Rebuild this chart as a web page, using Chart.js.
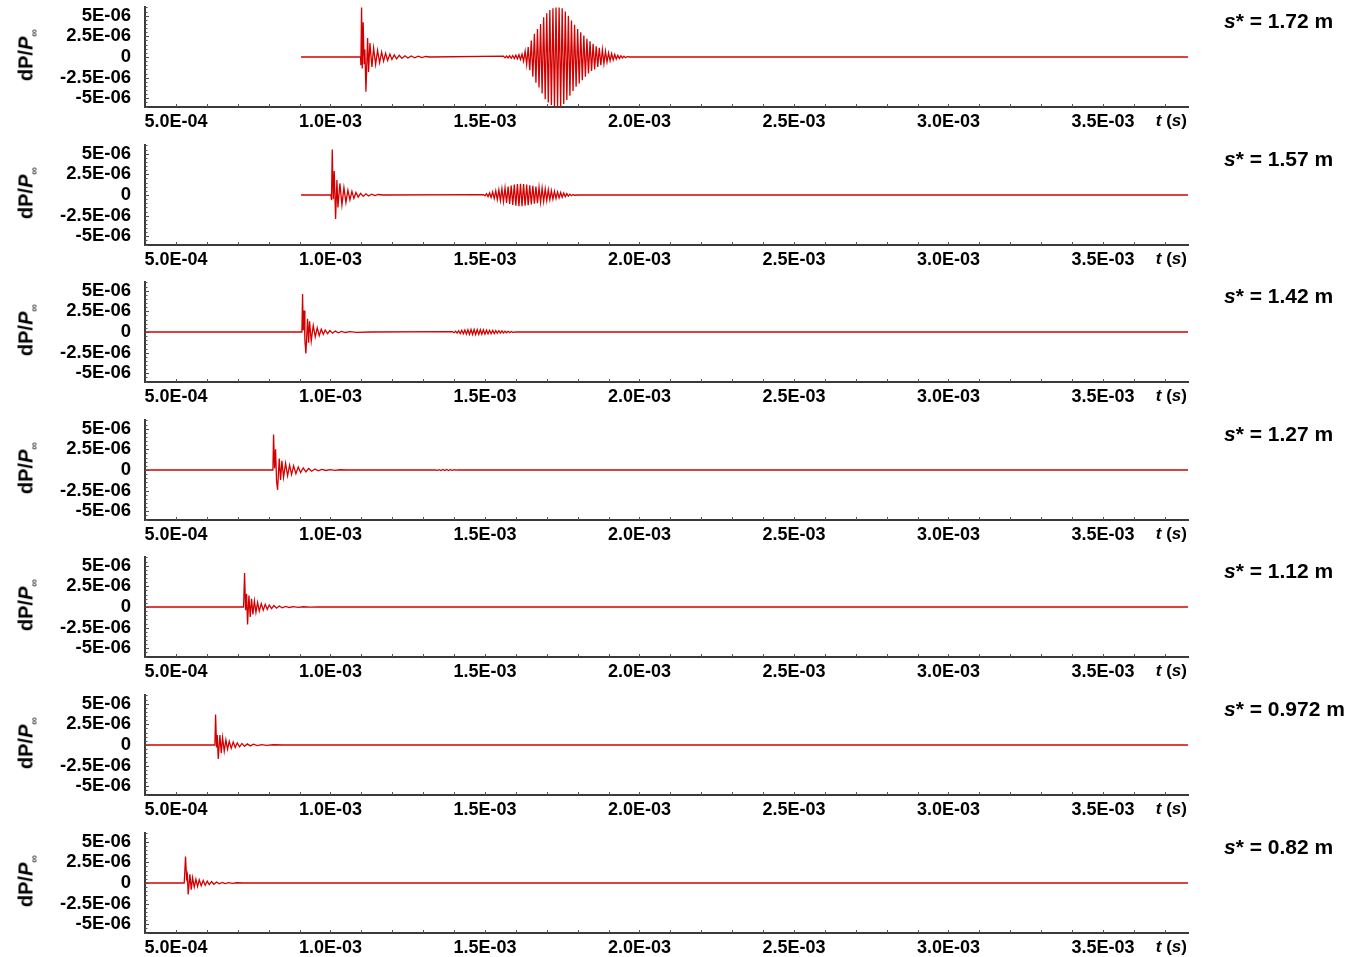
<!DOCTYPE html>
<html>
<head>
<meta charset="utf-8">
<script src="https://cdn.jsdelivr.net/npm/chart.js@4"></script>
<style>
body { margin: 0; background: #fff; font-family: "Liberation Sans", Arial, sans-serif; }
#page { position: relative; width: 1360px; height: 957px; overflow: hidden; }
.panel { position: absolute; left: 0; width: 1360px; height: 137px; }
.ylab { position: absolute; left: 27px; font-weight: bold; font-size: 20px; white-space: nowrap;
        transform: translate(-50%, -50%) rotate(-90deg); }
.ylab sub { font-size: 11px; font-weight: normal; }
.tlab { position: absolute; right: 173px; font-weight: bold; font-size: 17px; white-space: nowrap; transform: translateY(-50%); }
.slab { position: absolute; left: 1224px; font-weight: bold; font-size: 21px; white-space: nowrap; transform: translateY(-50%); }
</style>
</head>
<body>
<div id="page"></div>
<script>
// times in microseconds, pressure in units of 1E-06
const p1Time = [
  905, 1097.6, 1098.5, 1100.8, 1103, 1106, 1109, 1111.5, 1114.9, 1120.3,
  1123.5, 1127.8, 1134.3, 1139.7, 1146.2, 1152.6, 1159.1, 1165.6, 1172, 1178.5,
  1185, 1192.5, 1199, 1206.6, 1214, 1222.8, 1231.4, 1241, 1250.8, 1261.6,
  1272.4, 1284.3, 1296, 1308, 1322,
  1560, 1565, 1570, 1575, 1580, 1585, 1590, 1595, 1600, 1605, 1610, 1615,
  1620, 1625, 1630, 1635, 1640, 1645, 1650, 1655, 1660, 1665,
  1670, 1675, 1680, 1685, 1690, 1695, 1700, 1705, 1710, 1715,
  1720, 1725, 1730, 1735, 1740, 1745, 1750, 1755, 1760, 1765,
  1770, 1775, 1780, 1785, 1790, 1795, 1800, 1805, 1810, 1815,
  1820, 1825, 1830, 1835, 1840, 1845, 1850, 1855, 1860, 1865,
  1870, 1875, 1880, 1885, 1890, 1895, 1900, 1905, 1910, 1915,
  1920, 1925, 1930, 1935, 1940, 1945, 1950, 1955, 1960, 1970,
  3775]
const p1Value = [
  0, 0, -1.0, 6.0, -1.4, 4.2, -0.8, 0.9, -4.2, 2.3,
  -1.8, 1.7, -1.2, 1.1, -0.9, 0.8, -0.7, 0.6, -0.5, 0.45,
  -0.4, 0.35, -0.3, 0.25, -0.22, 0.2, -0.17, 0.15, -0.13, 0.12,
  -0.1, 0.09, -0.08, 0.06, 0,
  0.1, -0.1, 0.12, -0.12, 0.15, -0.15, 0.18, -0.18, 0.22, -0.22, 0.27, -0.3,
  0.35, -0.5, 0.7, -0.9, 1.2, -1.6, 2.0, -2.4, 2.8, -3.1,
  3.4, -3.7, 4.0, -4.4, 4.8, -5.1, 5.3, -5.5, 5.7, -5.8,
  5.9, -6.0, 6.0, -6.0, 6.0, -6.0, 5.9, -5.7, 5.5, -5.2,
  5.0, -4.7, 4.4, -4.1, 3.9, -3.6, 3.4, -3.2, 3.0, -2.8,
  2.6, -2.4, 2.2, -2.0, 1.9, -1.7, 1.6, -1.5, 1.3, -1.2,
  1.1, -1.0, 0.9, -0.8, 0.7, -0.6, 0.5, -0.45, 0.4, -0.35,
  0.3, -0.25, 0.2, -0.18, 0.15, -0.12, 0.1, -0.08, 0.05, 0,
  0]

const p2Time = [
  905, 1001.6, 1003.5, 1005.9, 1009.2, 1012.4, 1016.7, 1021, 1024.3, 1030.7,
  1037.2, 1043.7, 1050.2, 1056.6, 1063.1, 1069.6, 1076, 1082.5, 1090, 1097.6,
  1106.3, 1114.9, 1123.5, 1133.3, 1144, 1154.8, 1171,
  1495, 1500, 1505, 1510, 1515, 1520, 1525, 1530, 1535, 1540,
  1545, 1550, 1555, 1560, 1565, 1570, 1575, 1580, 1585, 1590,
  1595, 1600, 1605, 1610, 1615, 1620, 1625, 1630, 1635, 1640,
  1645, 1650, 1655, 1660, 1665, 1670, 1675, 1680, 1685, 1690,
  1695, 1700, 1705, 1710, 1715, 1720, 1725, 1730, 1735, 1740,
  1745, 1750, 1755, 1760, 1765, 1770, 1775, 1780, 1785, 1790,
  1800, 3775]
const p2Value = [
  0, 0, -0.6, 5.5, -0.5, 2.9, -2.9, 1.8, -1.5, 1.4,
  -1.2, 0.9, -0.9, 0.6, -0.6, 0.45, -0.4, 0.3, -0.25, 0.2,
  -0.17, 0.14, -0.12, 0.1, -0.08, 0.06, 0,
  0.05, -0.1, 0.15, -0.2, 0.25, -0.3, 0.37, -0.43, 0.5, -0.56,
  0.62, -0.68, 0.75, -0.8, 0.87, -0.95, 1.02, -1.08, 1.14, -1.2,
  1.25, -1.3, 1.32, -1.35, 1.35, -1.35, 1.32, -1.3, 1.25, -1.22,
  1.18, -1.14, 1.1, -1.06, 1.02, -0.98, 0.93, -0.88, 0.83, -0.78,
  0.73, -0.68, 0.63, -0.58, 0.53, -0.5, 0.46, -0.42, 0.38, -0.34,
  0.3, -0.27, 0.23, -0.2, 0.17, -0.13, 0.1, -0.08, 0.05, -0.03,
  0, 0]

const p3Time = [
  400, 907.7, 909.9, 912, 915.2, 917.4, 920.6, 926, 929.3, 932.5,
  937.9, 944.4, 950.9, 957.3, 963.8, 970.3, 976.8, 983.2, 990.8, 998.3,
  1007, 1015.6, 1025.3, 1036.1, 1048, 1063, 1084.7, 1128,
  1395, 1400, 1405, 1410, 1415, 1420, 1425, 1430, 1435, 1440,
  1445, 1450, 1455, 1460, 1465, 1470, 1475, 1480, 1485, 1490,
  1495, 1500, 1505, 1510, 1515, 1520, 1525, 1530, 1535, 1540,
  1545, 1550, 1555, 1560, 1565, 1570, 1575, 1580, 1585, 1590,
  1600, 3775]
const p3Value = [
  0, 0, 4.6, 0.2, 2.6, -1.0, -2.6, 1.6, -1.3, 1.3,
  -1.1, 0.8, -0.6, 0.5, -0.45, 0.33, -0.28, 0.24, -0.2, 0.17,
  -0.14, 0.12, -0.1, 0.08, -0.06, 0.05, -0.04, 0,
  0.05, -0.08, 0.1, -0.13, 0.15, -0.18, 0.2, -0.22, 0.24, -0.26,
  0.28, -0.29, 0.3, -0.3, 0.3, -0.3, 0.29, -0.29, 0.28, -0.28,
  0.27, -0.26, 0.24, -0.23, 0.21, -0.2, 0.19, -0.18, 0.17, -0.16,
  0.15, -0.14, 0.13, -0.12, 0.1, -0.09, 0.08, -0.07, 0.06, -0.05,
  0, 0]

const p4Time = [
  400, 813.9, 816, 819.3, 822.5, 825.8, 829, 834.4, 838.7, 843,
  848.4, 854.9, 861.4, 867.9, 874.3, 880.8, 888.3, 895.9, 903.5, 912.1,
  920.7, 929.4, 939.1, 949.9, 960.6, 972.5, 985.5, 998.4, 1014.6, 1030.8,
  1052.4,
  1340, 1346, 1352, 1358, 1364, 1370, 1376, 1382, 1388, 1394, 1400, 1406,
  1415, 3775]
const p4Value = [
  0, 0, 4.3, 0.2, 2.5, -1.4, -2.4, 1.4, -1.2, 1.1,
  -0.9, 0.8, -0.7, 0.6, -0.55, 0.5, -0.45, 0.35, -0.3, 0.25,
  -0.22, 0.18, -0.15, 0.12, -0.1, 0.08, -0.06, 0.05, -0.04, 0.03,
  0,
  0.02, -0.04, 0.05, -0.06, 0.07, -0.07, 0.07, -0.06, 0.05, -0.04, 0.03, -0.02,
  0, 0]

const p5Time = [
  400, 719, 722.2, 725.5, 728.7, 731.9, 736.3, 740.5, 744.8, 749.1,
  754, 759, 764.3, 769.7, 776.2, 782.7, 789.1, 795.6, 802.1, 809.6,
  817.2, 825.8, 834.5, 844.2, 855, 866.8, 879.8, 896, 912.1, 933.7,
  960.7, 3775]
const p5Value = [
  0, 0, 4.1, -0.4, 1.6, -2.1, 1.4, -1.2, 1.0, -0.9,
  0.75, -0.65, 0.55, -0.5, 0.42, -0.38, 0.32, -0.28, 0.24, -0.2,
  0.17, -0.14, 0.12, -0.1, 0.08, -0.06, 0.05, -0.04, 0.03, -0.02,
  0, 0]

const p6Time = [
  400, 626.2, 628.4, 631.6, 633.8, 637, 642.4, 646.7, 651, 656.4,
  661.8, 667.2, 672.6, 679.1, 685.5, 692, 698.5, 706, 713.6, 722.2,
  730.9, 740.6, 751.4, 763.2, 777.3, 793.4, 815, 847.4, 3775]
const p6Value = [
  0, 0, 3.7, -0.3, 1.2, -1.7, 1.2, -1.0, 0.9, -0.75,
  0.6, -0.5, 0.45, -0.4, 0.35, -0.3, 0.26, -0.22, 0.19, -0.16,
  0.13, -0.11, 0.09, -0.07, 0.05, -0.04, 0.03, 0, 0]

const p7Time = [
  400, 526.9, 531.2, 534.5, 537, 539.8, 545.2, 549.6, 553.9, 559.3,
  564.7, 570.1, 575.5, 581.9, 588.4, 594.9, 601.4, 607.8, 615.4, 622.9,
  631.6, 640.2, 649.9, 659.6, 670.4, 683.4, 696.3, 717.9, 3775]
const p7Value = [
  0, 0, 3.2, 0.6, 1.0, -1.4, 1.05, -0.8, 0.65, -0.5,
  0.45, -0.42, 0.38, -0.34, 0.3, -0.27, 0.23, -0.2, 0.17, -0.15,
  0.12, -0.1, 0.08, -0.07, 0.05, -0.04, 0.03, 0, 0]

const distances = ['1.72', '1.57', '1.42', '1.27', '1.12', '0.972', '0.82']
const yLabelValues = [-5, -2.5, 0, 2.5, 5]

const panelTimes = [p1Time, p2Time, p3Time, p4Time, p5Time, p6Time, p7Time]
const panelValues = [p1Value, p2Value, p3Value, p4Value, p5Value, p6Value, p7Value]

const fmtX = v => {
    if (v < 500 || v % 500 !== 0) return ''
    const e = Math.floor(Math.log10(v)) - 6
    const m = v / Math.pow(10, e + 6)
    return m.toFixed(1) + 'E-' + String(-e).padStart(2, '0')
}
const fmtY = v => {
    const hit = yLabelValues.find(l => Math.abs(l - v) < 1e-6)
    if (hit === undefined) return ''
    return hit === 0 ? '0' : hit + 'E-06'
}

// small inward tick marks like the original plot
const innerTicks = {
    id: 'innerTicks',
    afterDraw(chart) {
        const {ctx, chartArea: a, scales: {x, y}} = chart
        ctx.save()
        ctx.strokeStyle = '#555'
        ctx.lineWidth = 1
        ctx.beginPath()
        x.ticks.forEach(t => {
            if (t.value <= x.min) return
            const px = Math.round(x.getPixelForValue(t.value)) + 0.5
            ctx.moveTo(px, a.bottom)
            ctx.lineTo(px, a.bottom - 3)
        })
        y.ticks.forEach(t => {
            const py = Math.round(y.getPixelForValue(t.value)) + 0.5
            const len = fmtY(t.value) ? 4 : 2.5
            ctx.moveTo(a.left, py)
            ctx.lineTo(a.left + len, py)
        })
        ctx.stroke()
        ctx.restore()
    }
}

const noPad = s => {
    s.paddingTop = 0
    s.paddingBottom = 0
    s.paddingLeft = 0
    s.paddingRight = 0
}

const page = document.getElementById('page')

for (let i = 0; i < 7; i++) {
    const zero = Math.round(57 + i * 137.6)

    const box = document.createElement('div')
    box.className = 'panel'
    box.style.top = (zero - 57) + 'px'
    const cv = document.createElement('canvas')
    cv.width = 1360
    cv.height = 137
    box.appendChild(cv)
    page.appendChild(box)

    const yl = document.createElement('div')
    yl.className = 'ylab'
    yl.style.top = (zero - 2) + 'px'
    yl.innerHTML = 'dP/<i>P</i><sub>∞</sub>'
    page.appendChild(yl)

    const tl = document.createElement('div')
    tl.className = 'tlab'
    tl.style.top = (zero + 64) + 'px'
    tl.innerHTML = '<i>t</i> (<i>s</i>)'
    page.appendChild(tl)

    const sl = document.createElement('div')
    sl.className = 'slab'
    sl.style.top = (zero - 36) + 'px'
    sl.innerHTML = '<i>s</i>* = ' + distances[i] + ' m'
    page.appendChild(sl)

    const times = panelTimes[i]
    const vals = panelValues[i]
    const points = times.map((t, k) => ({x: t, y: vals[k]}))

    new Chart(cv, {
        type: 'line',
        data: {
            datasets: [{
                data: points,
                borderColor: '#d40000',
                borderWidth: 1.3,
                pointRadius: 0,
                tension: 0,
                fill: false
            }]
        },
        options: {
            responsive: false,
            animation: false,
            events: [],
            layout: {padding: {left: 0, right: 172, top: 7, bottom: 0}},
            plugins: {legend: {display: false}, tooltip: {enabled: false}},
            scales: {
                x: {
                    type: 'linear',
                    min: 400,
                    max: 3775,
                    grid: {display: false, drawTicks: false},
                    border: {display: true, color: '#3a3a3a', width: 2},
                    ticks: {
                        stepSize: 100,
                        includeBounds: false,
                        autoSkip: false,
                        maxRotation: 0,
                        padding: 4,
                        color: '#000',
                        font: {family: 'Liberation Sans', size: 18, weight: 'bold'},
                        callback: v => fmtX(v)
                    },
                    afterFit: s => { s.height = 30; noPad(s) }
                },
                y: {
                    type: 'linear',
                    min: -6.05,
                    max: 6.05,
                    grid: {display: false, drawTicks: false},
                    border: {display: true, color: '#3a3a3a', width: 2},
                    ticks: {
                        stepSize: 0.5,
                        includeBounds: false,
                        autoSkip: false,
                        padding: 14,
                        color: '#000',
                        font: {family: 'Liberation Sans', size: 18.5, weight: 'bold'},
                        callback: v => fmtY(v)
                    },
                    afterFit: s => { s.width = 145; noPad(s) }
                }
            }
        },
        plugins: [innerTicks]
    })
}
</script>
</body>
</html>
